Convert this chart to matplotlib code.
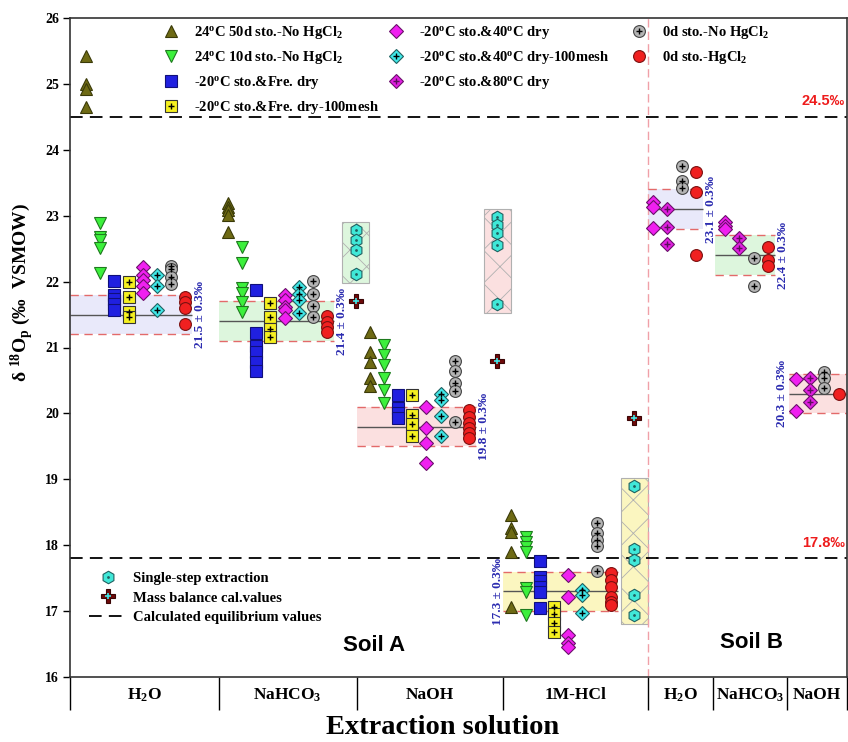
import matplotlib
matplotlib.use("Agg")
import matplotlib.pyplot as plt
import matplotlib.patches as mpatches
from matplotlib.lines import Line2D

plt.rcParams["font.family"] = "serif"
plt.rcParams["font.serif"] = ["Liberation Serif", "DejaVu Serif"]
plt.rcParams["font.weight"] = "bold"
plt.rcParams["mathtext.fontset"] = "custom"
plt.rcParams["mathtext.rm"] = "Liberation Serif:bold"
plt.rcParams["mathtext.it"] = "Liberation Serif:bold"
plt.rcParams["mathtext.bf"] = "Liberation Serif:bold"
plt.rcParams["hatch.linewidth"] = 0.6

# =============================================================================
# DATA
# =============================================================================

group_labels = [r"H$_2$O", r"NaHCO$_3$", "NaOH", "1M-HCl",
                r"H$_2$O", r"NaHCO$_3$", "NaOH"]
group_means = [21.5, 21.4, 19.8, 17.3, 23.1, 22.4, 20.3]
label_side = ["r", "r", "r", "l", "r", "r", "l"]

# delta18O values, one list per group (4 Soil A groups, then 3 Soil B groups)
sto50_nohg = [[25.43, 25.0, 24.93, 24.65],
              [23.19, 23.13, 23.09, 23.01, 22.75],
              [21.23, 20.93, 20.78, 20.54, 20.42],
              [18.46, 18.26, 18.20, 17.90, 17.06], [], [], []]
sto10_nohg = [[22.89, 22.68, 22.63, 22.51, 22.13],
              [22.53, 22.28, 21.90, 21.83, 21.69, 21.54],
              [21.04, 20.89, 20.73, 20.54, 20.36, 20.16],
              [18.12, 18.05, 17.97, 17.90, 17.35, 17.29, 16.94], [], [], []]
fre_dry = [[22.01, 21.80, 21.74, 21.66, 21.57],
           [21.87, 21.22, 21.02, 20.93, 20.78, 20.64],
           [20.28, 20.08, 20.01, 19.93],
           [17.76, 17.52, 17.45, 17.37, 17.29, 17.05], [], [], []]
fre_dry_mesh = [[21.99, 21.77, 21.54, 21.46],
                [21.68, 21.46, 21.28, 21.16],
                [20.28, 19.98, 19.84, 19.66],
                [17.06, 16.96, 16.82, 16.68], [], [], []]
dry40 = [[22.22, 22.10, 22.02, 21.93, 21.83],
         [21.80, 21.72, 21.61, 21.57, 21.45],
         [20.10, 19.78, 19.55, 19.25],
         [17.55, 17.21, 16.64, 16.52, 16.45],
         [23.21, 23.13, 22.81], [22.90, 22.84, 22.80], [20.52, 20.04]]
dry40_mesh = [[22.10, 21.93, 21.57],
              [21.92, 21.81, 21.72, 21.52],
              [20.29, 20.20, 19.96, 19.66],
              [17.32, 17.24, 16.97], [], [], []]
dry80 = [[], [], [], [],
         [23.10, 22.83, 22.57], [22.66, 22.51], [20.54, 20.36, 20.17]]
sto0_nohg = [[22.24, 22.19, 22.07, 21.96],
             [22.01, 21.81, 21.63, 21.46],
             [20.80, 20.64, 20.46, 20.34, 19.87],
             [18.34, 18.19, 18.08, 17.99, 17.61],
             [23.75, 23.53, 23.42], [22.36, 21.93], [20.63, 20.54, 20.39]]
sto0_hg = [[21.77, 21.69, 21.60, 21.36],
           [21.48, 21.39, 21.31, 21.24],
           [20.05, 19.95, 19.85, 19.78, 19.70, 19.63],
           [17.58, 17.47, 17.37, 17.21, 17.14, 17.09],
           [23.66, 23.36, 22.40], [22.53, 22.33, 22.24], [20.30]]

# single-step extraction and mass balance (Soil A NaHCO3, NaOH, 1M-HCl)
single_groups = [1, 2, 3]
single_step = [[22.78, 22.63, 22.48, 22.12],
               [22.98, 22.86, 22.74, 22.56, 21.66],
               [18.90, 17.94, 17.78, 17.24, 16.94]]
mass_balance = [21.71, 20.79, 19.93]

equilibrium = [24.5, 17.8]

# =============================================================================
# LAYOUT
# =============================================================================

group_edges = [0, 149, 287, 434, 579, 644, 718, 778]
col_start = [16, 9, 13, 8, 5, 12, 9]
col_step = 14.2
single_offset = [137, 141, 131]

box_colors = ["#E9E9FA", "#DDF6DD", "#FBE0E0", "#FBF6C0",
              "#E9E9FA", "#DDF6DD", "#FBE0E0"]
single_colors = ["#DDF6DD", "#FBE0E0", "#FBF6C0"]

# name, values, slot in Soil A, slot in Soil B, style, plus colour
series = [
    ("24$^{o}$C 50d sto.-No HgCl$_2$", sto50_nohg, 0, None,
     dict(marker="^", ms=8.5, mfc="#6E6A14", mec="#3A3A08"), None),
    ("24$^{o}$C 10d sto.-No HgCl$_2$", sto10_nohg, 1, None,
     dict(marker="v", ms=8.5, mfc="#3CF03C", mec="#1E7A1E"), None),
    ("-20$^{o}$C sto.&Fre. dry", fre_dry, 2, None,
     dict(marker="s", ms=8, mfc="#2020E0", mec="#10107A"), None),
    ("-20$^{o}$C sto.&Fre. dry-100mesh", fre_dry_mesh, 3, None,
     dict(marker="s", ms=8, mfc="#F5F020", mec="#333333"), "k"),
    ("-20$^{o}$C sto.&40$^{o}$C dry", dry40, 4, 0,
     dict(marker="D", ms=7, mfc="#F020F0", mec="#6A106A"), None),
    ("-20$^{o}$C sto.&40$^{o}$C dry-100mesh", dry40_mesh, 5, None,
     dict(marker="D", ms=7, mfc="#40E8E8", mec="#206060"), "k"),
    ("-20$^{o}$C sto.&80$^{o}$C dry", dry80, None, 1,
     dict(marker="D", ms=7, mfc="#E020E0", mec="#6A106A"), "#5A105A"),
    ("0d sto.-No HgCl$_2$", sto0_nohg, 6, 2,
     dict(marker="o", ms=8.5, mfc="#B4B4B4", mec="#444444"), "k"),
    ("0d sto.-HgCl$_2$", sto0_hg, 7, 3,
     dict(marker="o", ms=8.5, mfc="#F02020", mec="#7A1010"), None),
]

fig = plt.figure(figsize=(8.48, 7.42), dpi=100)
ax = fig.add_axes([70 / 848, 65 / 742, 777 / 848, 659 / 742])


def col_x(g, slot):
    return group_edges[g] + col_start[g] + slot * col_step


# shaded mean +/- 0.3 boxes
for g, mean in enumerate(group_means):
    nslots = 8 if g < 4 else 4
    left = group_edges[g] + (2 if g > 4 else 0)
    right = col_x(g, nslots - 1) + 7
    ax.add_patch(mpatches.Rectangle((left, mean - 0.3), right - left, 0.6,
                                    facecolor=box_colors[g], edgecolor="none",
                                    zorder=1))
    ax.hlines([mean - 0.3, mean + 0.3], left, right, colors="#E36A6A",
              linestyles=(0, (6, 4)), lw=1, zorder=1.5)
    ax.hlines(mean, left, right, colors="#555555", lw=1, zorder=1.5)
    if label_side[g] == "r":
        tx = right + 8
    else:
        tx = group_edges[g] - 5.5
    ax.text(tx, mean, f"{mean:.1f} ± 0.3‰", rotation=90, ha="center",
            va="center", color="#2B2BB0", fontsize=9.5, zorder=5)

# single-step boxes
for i, g in enumerate(single_groups):
    x = group_edges[g] + single_offset[i]
    lo = min(single_step[i]) - 0.14
    hi = max(single_step[i]) + 0.12
    ax.add_patch(mpatches.Rectangle((x - 13.5, lo), 27, hi - lo,
                                    facecolor=single_colors[i],
                                    edgecolor="#B0B0B0", lw=0.8, hatch="x",
                                    zorder=1))

# data columns
for name, vals, sa, sb, st, plus in series:
    for g, v in enumerate(vals):
        if not v:
            continue
        slot = sa if g < 4 else sb
        x = col_x(g, slot)
        ax.plot([x] * len(v), v, ls="none", mew=0.8, zorder=3, **st)
        if plus:
            ax.plot([x] * len(v), v, ls="none", marker="+", ms=5, mew=1,
                    color=plus, zorder=3.5)

for i, g in enumerate(single_groups):
    x = group_edges[g] + single_offset[i]
    v = single_step[i]
    ax.plot([x] * len(v), v, ls="none", marker="h", ms=9, mfc="#40E8D8",
            mec="#206060", mew=0.8, zorder=3)
    ax.plot([x] * len(v), v, ls="none", marker=".", ms=2, color="#206060",
            zorder=3.5)
    ax.plot(x, mass_balance[i], ls="none", marker="P", ms=10.5,
            mfc="#6E0A0A", mec="#3A0505", mew=0.8, zorder=3)
    ax.plot(x, mass_balance[i], ls="none", marker="+", ms=5, mew=1.2,
            color="#40E8E8", zorder=3.5)

# calculated equilibrium lines
for val in equilibrium:
    ax.axhline(val, color="black", lw=1.3, ls=(0, (7, 4)), zorder=2)
    ax.text(group_edges[-1] - 2, val + 0.13, f"{val}‰", ha="right",
            va="bottom", color="#EE1C1C", fontsize=10.5,
            family="Liberation Sans", zorder=5)

# soil A / soil B separator
ax.axvline(group_edges[4], color="#F0A0A8", lw=1, ls=(0, (6, 3)), zorder=1)
ax.text((group_edges[0] + group_edges[4]) / 2 + 15, 16.48, "Soil A",
        ha="center", va="center", fontsize=16, family="Liberation Sans")
ax.text((group_edges[4] + group_edges[-1]) / 2 + 4, 16.53, "Soil B",
        ha="center", va="center", fontsize=16, family="Liberation Sans")

# axes
ax.set_xlim(group_edges[0], group_edges[-1])
ax.set_ylim(16, 26)
ax.set_yticks(range(16, 27))
ax.tick_params(axis="y", length=5, width=1, labelsize=10, pad=3)
centers = [(group_edges[i] + group_edges[i + 1]) / 2 for i in range(7)]
ax.set_xticks(centers)
ax.set_xticklabels(group_labels, fontsize=12.5)
ax.set_xticks(group_edges, minor=True)
ax.tick_params(axis="x", which="major", length=0, pad=7)
ax.tick_params(axis="x", which="minor", length=24, width=1, direction="out")
for s in ax.spines.values():
    s.set_color("#333333")
    s.set_linewidth(1.2)

fig.text(0.027, 1 - 293 / 742, "δ $^{18}$O$_p$ (‰  VSMOW)", rotation=90,
         ha="center", va="center", fontsize=14)
fig.text(443 / 848, 1 - 728 / 742, "Extraction solution", ha="center",
         va="center", fontsize=20.5)


# legends
def handle(st, plus):
    base = Line2D([], [], ls="none", mew=0.8, **st)
    if plus:
        return (base, Line2D([], [], ls="none", marker="+", ms=5, mew=1,
                             color=plus))
    return base


handles = [handle(s[4], s[5]) for s in series]
names = [s[0] for s in series]
cols = [(0, 4, 164), (4, 7, 389), (7, 9, 632)]
for a, b, px in cols:
    leg = ax.legend(handles[a:b], names[a:b], loc="upper left",
                    bbox_to_anchor=(px / 848, 1 - 24 / 742),
                    bbox_transform=fig.transFigure, frameon=False,
                    fontsize=10.5, handlelength=1.0, handletextpad=1.05,
                    labelspacing=0.55, borderpad=0, borderaxespad=0)
    ax.add_artist(leg)

h_single = (Line2D([], [], ls="none", marker="h", ms=9, mfc="#40E8D8",
                   mec="#206060", mew=0.8),
            Line2D([], [], ls="none", marker=".", ms=2, color="#206060"))
h_mass = (Line2D([], [], ls="none", marker="P", ms=10.5, mfc="#6E0A0A",
                 mec="#3A0505", mew=0.8),
          Line2D([], [], ls="none", marker="+", ms=5, mew=1.2,
                 color="#40E8E8"))
h_eq = Line2D([], [], color="black", lw=1.3, ls=(0, (7, 4)))
leg2 = ax.legend([h_single, h_mass, h_eq],
                 ["Single-step extraction", "Mass balance cal.values",
                  "Calculated equilibrium values"],
                 loc="upper left", bbox_to_anchor=(89 / 848, 1 - 572 / 742),
                 bbox_transform=fig.transFigure, frameon=False,
                 fontsize=10.5, handlelength=2.6, handletextpad=0.45,
                 labelspacing=0.42, borderpad=0, borderaxespad=0)

fig.savefig("out.png", dpi=100)
